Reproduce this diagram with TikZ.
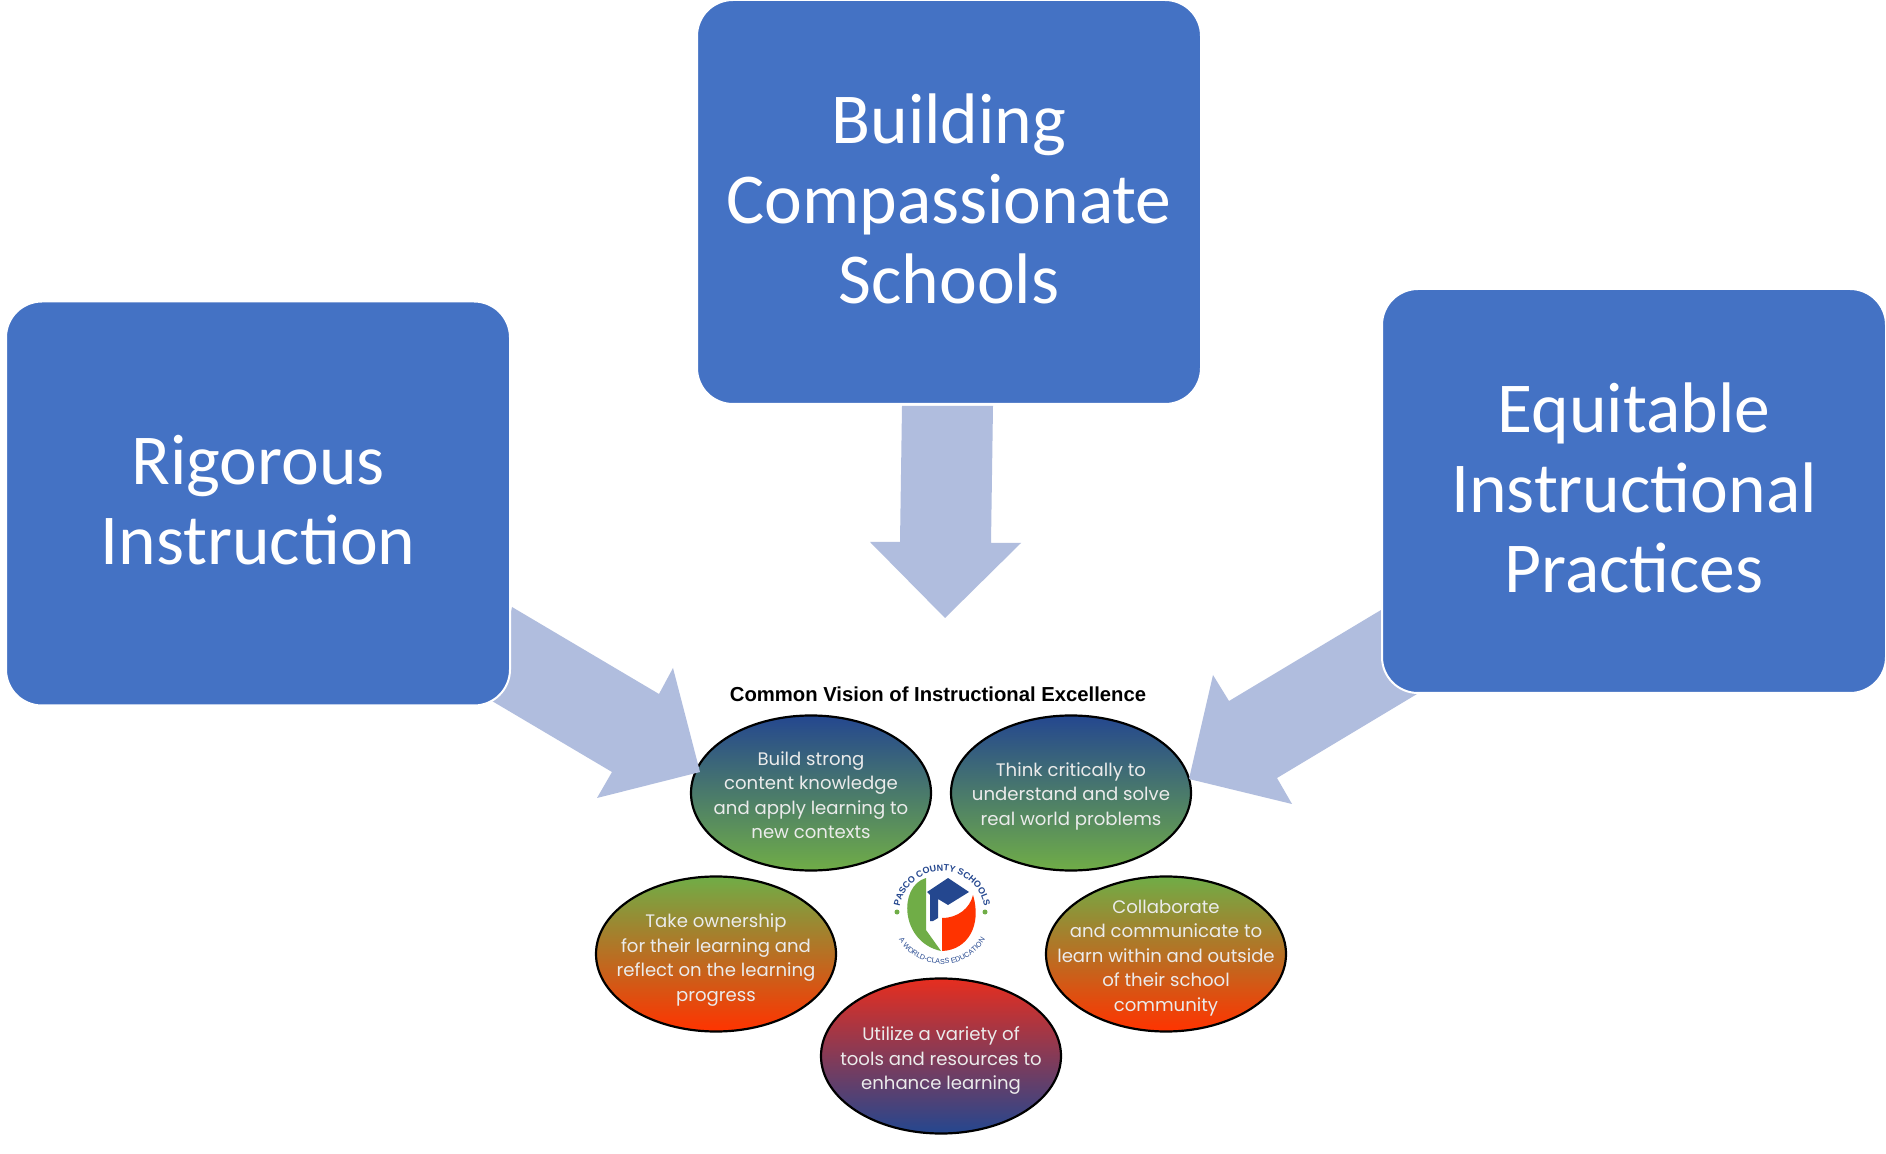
\documentclass[tikz,border=0pt]{standalone}
\usepackage{fontspec}
\setmainfont{Carlito}
\newfontfamily\smallsans{Poppins}
\newfontfamily\logosans{Liberation Sans}
\usetikzlibrary{shapes.geometric,decorations.text}
\definecolor{boxblue}{HTML}{4472C4}
\definecolor{arrowblue}{HTML}{B0BDDE}
\definecolor{gblue}{HTML}{24478F}
\definecolor{ggreen}{HTML}{70AD47}
\definecolor{gred}{HTML}{FF3300}
\definecolor{gcrimson}{HTML}{E62E1F}
\tikzset{
  x=0.5pt,y=-0.5pt,
  bigbox/.style={draw=white,line width=1pt,fill=boxblue,rounded corners=18pt,minimum width=252pt,minimum height=202pt,inner sep=0pt},
  boxtext/.style={inner sep=0pt,text=white,align=center,font=\fontsize{35.8}{40}\selectfont},
  bigarrow/.style={fill=arrowblue,draw=none},
  oval/.style={ellipse,draw=black,line width=1.1pt,minimum width=120pt,minimum height=77.5pt,inner sep=0pt},
  ovaltext/.style={inner sep=0pt,align=center,text=white!92!black,font=\smallsans\fontsize{9.05}{12.25}\selectfont},
  bg/.style={top color=gblue,bottom color=ggreen},
  mid/.style={top color=ggreen,bottom color=gred},
  low/.style={top color=gcrimson,bottom color=gblue},
}
\begin{document}
\begin{tikzpicture}
\useasboundingbox (0,0) rectangle (1886,1154);
\fill[white] (0,0) rectangle (1886,1154);
% title
\node[font=\logosans\bfseries\fontsize{10.13}{12}\selectfont] (title) at (938,694) {Common Vision of Instructional Excellence};
% ovals
\node[oval,bg] (o1) at (811,793) {};
\node[oval,bg] (o2) at (1071,793) {};
\node[oval,mid] (o3) at (716,954) {};
\node[oval,mid] (o4) at (1166,954) {};
\node[oval,low] (o5) at (941,1056) {};
\node[ovaltext] (t1) at (811,795) {Build strong\\content knowledge\\and apply learning to\\new contexts};
\node[ovaltext] (t2) at (1071,796) {Think critically to\\understand and solve\\real world problems};
\node[ovaltext] (t3) at (716,960) {Take ownership\\for their learning and\\reflect on the learning\\progress};
\node[ovaltext] (t4) at (1166,958) {Collaborate\\and communicate to\\learn within and outside\\of their school\\community};
\node[ovaltext] (t5) at (941,1061) {Utilize a variety of\\tools and resources to\\enhance learning};
% logo
\fill[ggreen] (926,878) .. controls (898,886) and (900,942) .. (941,951) -- (926,930) -- cycle;
\fill[gred] (942,951) .. controls (968,950) and (982,925) .. (973,895) .. controls (970,908) and (958,918) .. (942,918) -- cycle;
\fill[gblue] (948,878) -- (969,892) -- (948,905) -- (938,899) -- (938,918) -- (933,921) -- (930,921) -- (930,895) -- (927,892) -- cycle;
\path[decorate,decoration={text along path,text align=center,text={|\logosans\bfseries\fontsize{4.5}{5}\selectfont\color{gblue}|PASCO COUNTY SCHOOLS}}] (899,914) arc[start angle=180,end angle=360,x radius=43,y radius=43];
\path[decorate,decoration={text along path,text align=center,text={|\logosans\fontsize{3.6}{4}\selectfont\color{gblue}|A WORLD-CLASS EDUCATION}}] (892,914) arc[start angle=180,end angle=0,x radius=50,y radius=50];
\fill[ggreen] (897,912) circle[radius=2.5] (985,912) circle[radius=2.5];
% arrows
\fill[bigarrow] (512,607)--(659,694)--(673,668)--(700,772)--(597,798)--(612,772)--(492,701)--cycle;
\fill[bigarrow] (1381,610)--(1229,701)--(1213,675)--(1189,779)--(1292,804)--(1277,778)--(1417,694)--cycle;
\fill[bigarrow] (902,406)--(993,406)--(991,543)--(1021,543)--(945,618)--(870,542)--(900,542)--cycle;
% boxes
\node[bigbox] (rigor) at (258,503.5) {};
\node[bigbox] (build) at (949,202) {};
\node[bigbox] (equit) at (1634,491) {};
\node[boxtext] (rigort) at (258,500) {Rigorous\\Instruction};
\node[boxtext] (buildt) at (949,199) {Building\\Compassionate\\Schools};
\node[boxtext] (equitt) at (1634,488) {Equitable\\Instructional\\Practices};
\end{tikzpicture}
\end{document}
